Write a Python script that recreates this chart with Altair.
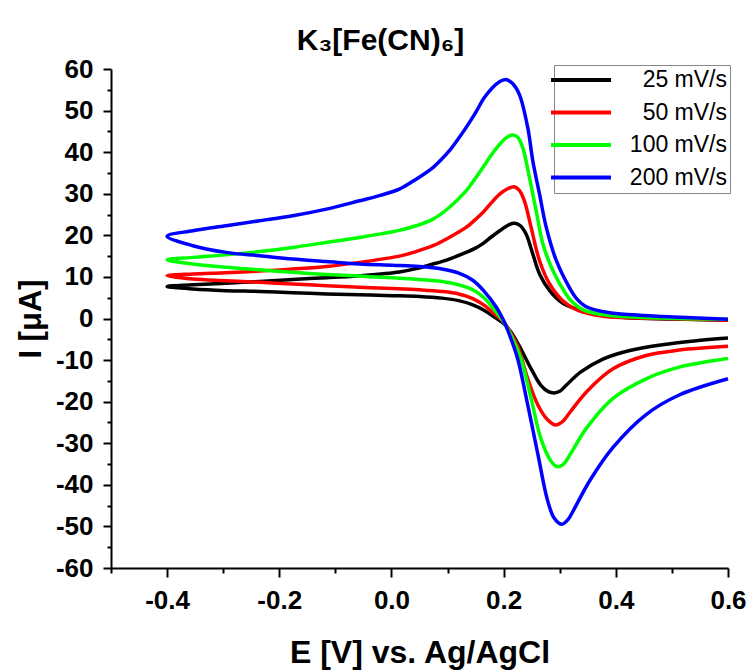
import altair as alt
import pandas as pd

# Scan rates and their line colours
rates = ["25 mV/s", "50 mV/s", "100 mV/s", "200 mV/s"]
colors = ["#000000", "#ff0000", "#00ff00", "#0000ff"]

# Each voltammogram is one open path: starting at +0.6 V on the upper branch,
# sweeping to the -0.4 V vertex and returning along the lower branch.
e_25 = [0.600, 0.500, 0.420, 0.370, 0.345, 0.325, 0.305, 0.282, 0.264, 0.252, 0.240,
        0.230, 0.220, 0.210, 0.193, 0.178, 0.163, 0.148, 0.133, 0.103, 0.074, 0.044,
        0.014, -0.057, -0.116, -0.176, -0.235, -0.295, -0.354, -0.400,
        -0.354, -0.295, -0.235, -0.176, -0.116, -0.057, 0.002, 0.050, 0.090, 0.120,
        0.145, 0.165, 0.185, 0.200, 0.214, 0.231, 0.249, 0.266, 0.280, 0.290, 0.300,
        0.312, 0.337, 0.378, 0.425, 0.483, 0.540, 0.600]
i_25 = [-0.4, -0.1, 0.2, 0.9, 1.6, 2.5, 3.7, 6.7, 10.7, 15.5, 20.3,
        22.3, 22.9, 22.6, 21.1, 19.6, 18.0, 16.8, 15.9, 14.3, 13.1, 12.0,
        11.2, 10.3, 9.8, 9.4, 8.9, 8.5, 8.1, 7.7,
        7.1, 6.7, 6.5, 6.2, 5.9, 5.7, 5.5, 5.3, 4.9, 4.3,
        3.3, 2.0, 0.2, -1.2, -3.4, -7.4, -12.1, -16.0, -17.6, -17.9, -17.5,
        -16.0, -12.9, -9.7, -7.7, -6.3, -5.4, -4.7]

e_50 = [0.600, 0.483, 0.400, 0.365, 0.340, 0.323, 0.305, 0.282, 0.264, 0.249, 0.237,
        0.228, 0.219, 0.207, 0.193, 0.178, 0.163, 0.148, 0.133, 0.103, 0.074, 0.044,
        0.014, -0.057, -0.116, -0.176, -0.235, -0.295, -0.354, -0.400,
        -0.354, -0.295, -0.235, -0.176, -0.116, -0.057, 0.002, 0.050, 0.090, 0.120,
        0.145, 0.165, 0.185, 0.200, 0.212, 0.225, 0.243, 0.261, 0.278, 0.292, 0.305,
        0.318, 0.348, 0.395, 0.454, 0.513, 0.600]
i_50 = [-0.4, 0.0, 0.3, 0.8, 1.6, 2.6, 4.3, 8.3, 13.9, 21.9, 28.3,
        30.8, 31.7, 31.2, 29.9, 27.8, 25.5, 23.6, 21.9, 19.5, 17.5, 16.1,
        15.0, 13.5, 12.5, 11.9, 11.4, 11.0, 10.7, 10.3,
        9.5, 9.1, 8.7, 8.3, 7.9, 7.5, 7.2, 6.9, 6.5, 5.9,
        4.8, 3.2, 0.9, -0.8, -3.3, -6.6, -14.5, -20.8, -24.3, -25.6, -24.8,
        -22.6, -17.6, -12.1, -8.9, -7.6, -6.7]

e_100 = [0.600, 0.483, 0.400, 0.365, 0.340, 0.322, 0.311, 0.288, 0.270, 0.258, 0.246,
         0.234, 0.225, 0.216, 0.205, 0.193, 0.178, 0.163, 0.148, 0.133, 0.103, 0.074,
         0.044, 0.014, -0.057, -0.116, -0.176, -0.235, -0.295, -0.354, -0.400,
         -0.354, -0.295, -0.235, -0.176, -0.116, -0.057, 0.002, 0.050, 0.090, 0.120,
         0.145, 0.165, 0.185, 0.200, 0.215, 0.231, 0.249, 0.266, 0.284, 0.295, 0.307,
         0.319, 0.348, 0.395, 0.454, 0.513, 0.600]
i_100 = [-0.2, 0.1, 0.6, 1.2, 2.2, 4.0, 5.9, 11.5, 17.9, 25.9, 33.9,
         41.1, 43.6, 44.1, 43.5, 41.9, 39.3, 36.3, 33.4, 30.7, 26.7, 23.9,
         22.3, 21.2, 19.5, 18.3, 17.1, 16.1, 15.3, 14.7, 14.1,
         13.1, 12.3, 11.7, 11.1, 10.6, 10.2, 9.8, 9.4, 8.9, 8.1,
         6.9, 5.0, 1.8, -0.8, -4.5, -9.7, -19.2, -28.7, -34.2, -35.6, -35.0,
         -32.6, -26.3, -19.2, -14.5, -11.7, -9.6]

e_200 = [0.600, 0.483, 0.430, 0.389, 0.365, 0.345, 0.330, 0.317, 0.294, 0.276, 0.264,
         0.252, 0.243, 0.228, 0.216, 0.204, 0.192, 0.180, 0.165, 0.150, 0.133, 0.118,
         0.103, 0.088, 0.074, 0.044, 0.014, -0.020, -0.057, -0.116, -0.176, -0.235,
         -0.295, -0.354, -0.400,
         -0.354, -0.295, -0.235, -0.176, -0.116, -0.057, 0.002, 0.050, 0.090, 0.120,
         0.145, 0.165, 0.187, 0.200, 0.212, 0.225, 0.243, 0.261, 0.278, 0.290, 0.303,
         0.315, 0.325, 0.354, 0.395, 0.454, 0.513, 0.600]
i_200 = [-0.2, 0.5, 0.9, 1.4, 2.0, 3.0, 4.8, 7.5, 13.9, 21.9, 29.9,
         37.9, 45.9, 53.9, 56.5, 57.5, 56.9, 55.5, 53.0, 49.5, 45.9, 43.0,
         40.3, 38.1, 36.3, 33.5, 31.1, 29.6, 28.3, 26.3, 24.7, 23.5,
         22.3, 21.1, 19.8,
         17.5, 15.9, 15.1, 14.3, 13.7, 13.1, 12.8, 12.5, 11.9, 10.9,
         9.2, 6.6, 2.7, -0.5, -4.5, -9.7, -20.8, -32.6, -43.6, -48.0, -49.5,
         -48.3, -46.0, -38.9, -31.0, -23.1, -18.4, -14.5]

x_tick_values = [-0.5, -0.4, -0.3, -0.2, -0.1, 0.0, 0.1, 0.2, 0.3, 0.4, 0.5, 0.6]
y_tick_values = [-60, -55, -50, -45, -40, -35, -30, -25, -20, -15, -10, -5, 0,
                 5, 10, 15, 20, 25, 30, 35, 40, 45, 50, 55, 60]

rows = []
for label, es, cs in zip(rates, [e_25, e_50, e_100, e_200], [i_25, i_50, i_100, i_200]):
    for k, (e, c) in enumerate(zip(es, cs)):
        rows.append({"E": e, "I": c, "rate": label, "k": k})
df = pd.DataFrame(rows)

font = "Liberation Sans"

x_major = "abs(round(datum.value * 10)) % 2 == 0"
y_major = "abs(round(datum.value)) % 10 == 0"

x_axis = alt.Axis(
    title="E [V] vs. Ag/AgCl",
    values=x_tick_values,
    labelExpr="(" + x_major + " && datum.value > -0.45) ? replace(format(datum.value, '.1f'), '\u2212', '-') : ''",
    tickSize={"condition": {"test": x_major, "value": 9}, "value": 5},
    labelPadding=10,
    labelFont=font, labelFontSize=26, labelFontWeight="bold", labelColor="black",
    titleFont=font, titleFontSize=32, titleFontWeight="bold", titleColor="black",
    titleX=308.5, titleY=94, titleBaseline="alphabetic", titleAlign="center",
    domainColor="black", domainWidth=2, tickColor="black", tickWidth=2,
    grid=False, labelFlush=False, labelOverlap=False,
)

y_axis = alt.Axis(
    title="I [\u03bcA]",
    values=y_tick_values,
    labelExpr="(" + y_major + ") ? replace(format(datum.value, 'd'), '\u2212', '-') : ''",
    tickSize={"condition": {"test": y_major, "value": 8}, "value": 4},
    labelPadding=10,
    labelFont=font, labelFontSize=26, labelFontWeight="bold", labelColor="black",
    titleFont=font, titleFontSize=31, titleFontWeight="bold", titleColor="black",
    titleX=-71, titleY=249.5, titleAngle=-90, titleBaseline="alphabetic", titleAlign="center",
    domainColor="black", domainWidth=2, tickColor="black", tickWidth=2,
    grid=False, labelFlush=False, labelOverlap=False,
)

# Legend: a 60 px line sample with right-aligned rate labels inside a grey frame
legend = alt.Legend(
    title=None, orient="none", legendX=443, legendY=-4,
    symbolType="M-3,0H3", symbolSize=400, symbolStrokeWidth=4, symbolOffset=12,
    labelFont=font, labelFontSize=23, labelColor="black",
    labelAlign="right", labelOffset=134, labelLimit=400,
    rowPadding=8.5, padding=3, strokeColor="#888888", fillColor="white",
)

chart = alt.Chart(df).mark_line(strokeWidth=3.5, interpolate="catmull-rom").encode(
    x=alt.X("E:Q", scale=alt.Scale(domain=[-0.5, 0.6], nice=False, zero=False), axis=x_axis),
    y=alt.Y("I:Q", scale=alt.Scale(domain=[-60, 60], nice=False, zero=False), axis=y_axis),
    color=alt.Color("rate:N", scale=alt.Scale(domain=rates, range=colors),
                    sort=rates, legend=legend),
    order="k:Q",
).properties(
    width=617,
    height=499,
    title=alt.TitleParams("K\u2083[Fe(CN)\u2086]", font=font, fontSize=30, fontWeight="bold",
                          color="black", anchor="middle", frame="bounds", offset=0),
).configure(
    padding={"left": 111, "top": 69, "right": 27, "bottom": 103},
    autosize={"type": "none"},
    background="white",
).configure_view(stroke=None)

chart.save("out.html", embed_options={"renderer": "svg", "actions": False})
